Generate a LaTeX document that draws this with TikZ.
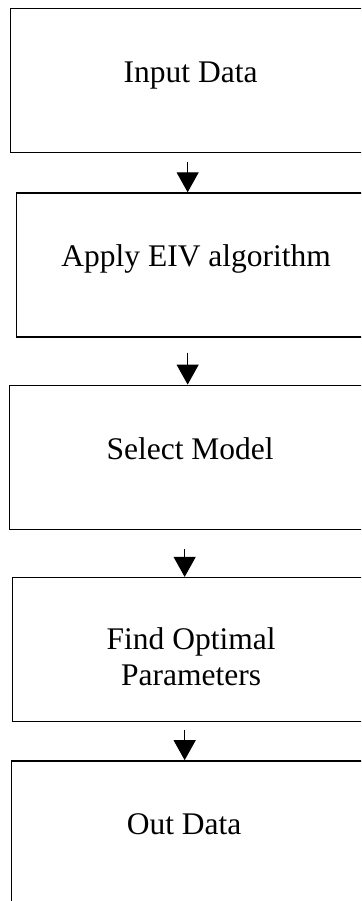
\documentclass[tikz,border=0pt]{standalone}
\usepackage{fontspec}
\setmainfont{Liberation Serif}
\usetikzlibrary{positioning}
\usetikzlibrary{arrows.meta}

\tikzset{
  stage/.style={draw, rectangle, line width=1.3pt, minimum width=375pt,
    inner xsep=0pt, inner ysep=0pt, text height=74pt, text depth=70pt,
    align=center, font=\fontsize{31.5}{36}\selectfont},
  flow/.style={line width=1.2pt, -{Triangle[width=22pt,length=20pt]}}
}

\begin{document}
\begin{tikzpicture}
    \useasboundingbox (0,0) rectangle (361pt,-901pt);
    \clip (0,0) rectangle (361pt,-901pt);

    % boxes run past the right border of the page
    \node[stage, anchor=north west] (input) at (10pt,-8pt) {Input Data\hspace*{15pt}};
    \node[stage, below=39pt of input.south west, anchor=north west, xshift=6pt, minimum width=369pt] (eiv) {Apply EIV algorithm\hspace*{10pt}};
    \node[stage, below=47pt of eiv.south west, anchor=north west, xshift=-7pt, minimum width=376pt] (model) {Select Model\hspace*{15pt}};
    \node[stage, below=47pt of model.south west, anchor=north west, xshift=3pt, minimum width=373pt,
          text height=108pt, text depth=36pt] (optim) {Find Optimal\hspace*{16pt}\\Parameters\hspace*{16pt}};
    \node[stage, below=38pt of optim.south west, anchor=north west, xshift=-1pt, minimum width=374pt] (output) {Out Data\hspace*{29pt}};

    \coordinate[below=9pt of input.south, xshift=-10.5pt] (s1);
    \coordinate[below=15pt of eiv.south, xshift=-13.5pt] (s2);
    \coordinate[below=19pt of model.south, xshift=-13pt] (s3);
    \coordinate[below=8pt of optim.south, xshift=-14.5pt] (s4);

    \draw[flow] (s1) -- (s1 |- eiv.north);
    \draw[flow] (s2) -- (s2 |- model.north);
    \draw[flow] (s3) -- (s3 |- optim.north);
    \draw[flow] (s4) -- (s4 |- output.north);
\end{tikzpicture}
\end{document}
